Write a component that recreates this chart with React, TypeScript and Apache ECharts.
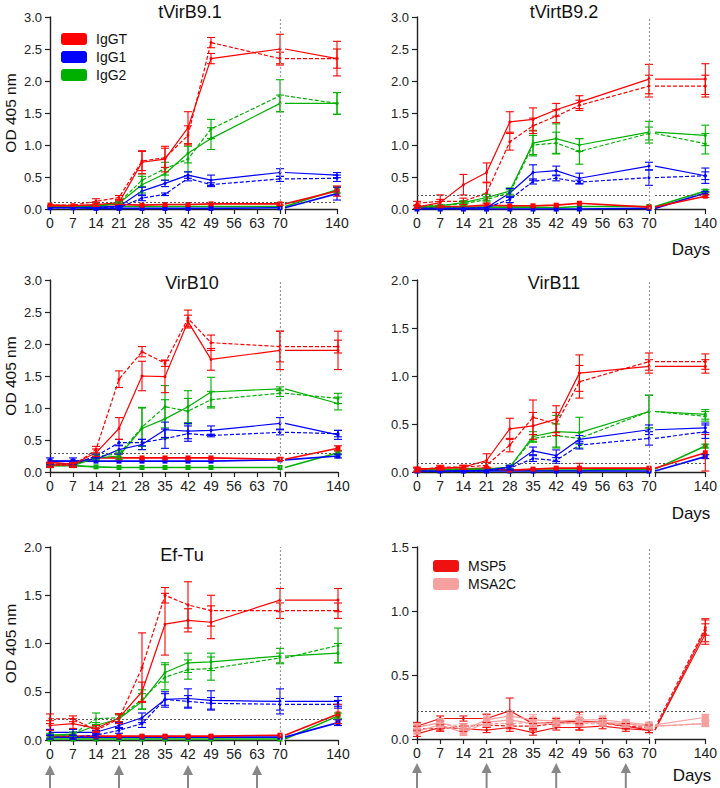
import React, { useEffect, useRef } from 'react';
import * as echarts from 'echarts';

// ---------- categories ----------
const DAYS = [0, 7, 14, 21, 28, 35, 42, 49, 70, 140];
const DAYS_P6 = [0, 7, 14, 21, 28, 35, 42, 49, 56, 63, 70, 140];
const ARROW_DAYS = [0, 21, 42, 63];
const ISOTYPES = ['IgGT', 'IgG1', 'IgG2'];
const ANTIGENS_P6 = ['MSP5', 'MSA2C'];

// ---------- tVirB9.1 ----------
const B91_T_A = [0.05, 0.05, 0.07, 0.1, 0.73, 0.78, 1.27, 2.35, 2.5, 2.35];
const B91_T_A_E = [0, 0, 0.03, 0.03, 0.18, 0.2, 0.25, 0.08, 0.23, 0.27];
const B91_T_B = [0.06, 0.06, 0.12, 0.18, 0.75, 0.8, 1.15, 2.6, 2.35, 2.35];
const B91_T_B_E = [0, 0, 0.04, 0.03, 0.15, 0.15, 0.15, 0.08, 0.1, 0.15];
const B91_T_C = [0.06, 0.05, 0.06, 0.07, 0.06, 0.07, 0.07, 0.08, 0.08, 0.28];
const B91_T_C_E = [0, 0, 0, 0, 0, 0, 0, 0, 0.02, 0.08];
const B91_1_A = [0.02, 0.02, 0.03, 0.04, 0.28, 0.4, 0.53, 0.45, 0.57, 0.53];
const B91_1_A_E = [0, 0, 0, 0.01, 0.06, 0.05, 0.05, 0.08, 0.06, 0.04];
const B91_1_B = [0.02, 0.02, 0.02, 0.02, 0.17, 0.23, 0.48, 0.38, 0.47, 0.48];
const B91_1_B_E = [0, 0, 0, 0, 0.04, 0.02, 0.04, 0.03, 0.04, 0.05];
const B91_1_C = [0.02, 0.02, 0.01, 0.01, 0.01, 0.01, 0.01, 0.01, 0.02, 0.24];
const B91_1_C_E = [0, 0, 0, 0, 0, 0, 0, 0, 0, 0.1];
const B91_2_A = [0.03, 0.03, 0.04, 0.09, 0.38, 0.55, 0.87, 1.1, 1.65, 1.65];
const B91_2_A_E = [0, 0, 0, 0.02, 0.13, 0.1, 0.15, 0.17, 0.13, 0.17];
const B91_2_B = [0.03, 0.03, 0.05, 0.1, 0.45, 0.63, 0.78, 1.25, 1.77, 1.65];
const B91_2_B_E = [0, 0, 0, 0.02, 0.1, 0.1, 0.2, 0.15, 0.25, 0.17];
const B91_2_C = [0.03, 0.03, 0.03, 0.04, 0.04, 0.04, 0.04, 0.04, 0.04, 0.3];
const B91_2_C_E = [0, 0, 0, 0, 0, 0, 0, 0, 0, 0.05];

// ---------- tVirtB9.2 ----------
const B92_T_A = [0.03, 0.1, 0.38, 0.57, 1.36, 1.4, 1.55, 1.67, 2.03, 2.03];
const B92_T_A_E = [0.02, 0.05, 0.16, 0.15, 0.16, 0.18, 0.1, 0.1, 0.23, 0.24];
const B92_T_B = [0.09, 0.12, 0.12, 0.25, 1.05, 1.3, 1.45, 1.62, 1.92, 1.92];
const B92_T_B_E = [0.03, 0.1, 0.05, 0.16, 0.13, 0.12, 0.1, 0.08, 0.17, 0.17];
const B92_T_C = [0.04, 0.04, 0.04, 0.06, 0.05, 0.05, 0.06, 0.09, 0.03, 0.2];
const B92_T_C_E = [0, 0, 0, 0, 0, 0, 0, 0, 0, 0.02];
const B92_1_A = [0.01, 0.01, 0.01, 0.02, 0.25, 0.57, 0.6, 0.48, 0.67, 0.52];
const B92_1_A_E = [0, 0, 0, 0, 0.07, 0.12, 0.07, 0.08, 0.06, 0.12];
const B92_1_B = [0.01, 0.01, 0.01, 0.02, 0.15, 0.43, 0.48, 0.42, 0.49, 0.52];
const B92_1_B_E = [0, 0, 0, 0, 0.05, 0.04, 0.04, 0.03, 0.12, 0.06];
const B92_1_C = [0, 0, 0, 0, 0, 0, 0, 0, 0.01, 0.25];
const B92_1_C_E = [0, 0, 0, 0, 0, 0, 0, 0, 0, 0.02];
const B92_2_A = [0.03, 0.05, 0.1, 0.18, 0.28, 1.03, 1.1, 1.0, 1.2, 1.15];
const B92_2_A_E = [0, 0, 0.03, 0.05, 0.05, 0.2, 0.23, 0.1, 0.17, 0.16];
const B92_2_B = [0.05, 0.06, 0.08, 0.15, 0.25, 1.0, 1.03, 0.9, 1.18, 1.02];
const B92_2_B_E = [0, 0, 0.03, 0.04, 0.05, 0.15, 0.17, 0.2, 0.1, 0.16];
const B92_2_C = [0.03, 0.03, 0.03, 0.03, 0.03, 0.03, 0.02, 0.04, 0.04, 0.28];
const B92_2_C_E = [0, 0, 0, 0, 0, 0, 0, 0, 0, 0.02];

// ---------- VirB10 ----------
const B10_T_A = [0.1, 0.12, 0.3, 0.68, 1.5, 1.49, 2.35, 1.76, 1.9, 1.9];
const B10_T_A_E = [0.03, 0.03, 0.06, 0.17, 0.23, 0.25, 0.1, 0.17, 0.3, 0.3];
const B10_T_B = [0.12, 0.1, 0.35, 1.45, 1.88, 1.7, 2.4, 2.02, 1.96, 1.96];
const B10_T_B_E = [0.03, 0.03, 0.05, 0.13, 0.08, 0.05, 0.13, 0.12, 0.24, 0.1];
const B10_T_C = [0.15, 0.12, 0.22, 0.22, 0.22, 0.22, 0.22, 0.22, 0.2, 0.37];
const B10_T_C_E = [0, 0, 0, 0, 0, 0, 0, 0, 0.02, 0.04];
const B10_1_A = [0.17, 0.17, 0.2, 0.35, 0.43, 0.66, 0.64, 0.65, 0.76, 0.58];
const B10_1_A_E = [0.05, 0.05, 0.03, 0.07, 0.08, 0.12, 0.12, 0.07, 0.09, 0.07];
const B10_1_B = [0.12, 0.12, 0.25, 0.46, 0.46, 0.52, 0.6, 0.57, 0.62, 0.6];
const B10_1_B_E = [0.03, 0.03, 0.03, 0.05, 0.05, 0.15, 0.12, 0.02, 0.04, 0.05];
const B10_1_C = [0.17, 0.17, 0.17, 0.17, 0.17, 0.17, 0.17, 0.17, 0.19, 0.25];
const B10_1_C_E = [0, 0, 0, 0, 0, 0, 0, 0, 0, 0.03];
const B10_2_A = [0.12, 0.1, 0.22, 0.25, 0.68, 0.83, 1.02, 1.25, 1.3, 1.07];
const B10_2_A_E = [0.02, 0.02, 0.03, 0.05, 0.33, 0.3, 0.25, 0.23, 0.03, 0.1];
const B10_2_B = [0.1, 0.1, 0.25, 0.28, 0.7, 1.02, 0.95, 1.13, 1.23, 1.15];
const B10_2_B_E = [0.02, 0.02, 0.03, 0.05, 0.3, 0.33, 0.2, 0.13, 0.05, 0.08];
const B10_2_C = [0.1, 0.1, 0.08, 0.07, 0.07, 0.07, 0.07, 0.07, 0.07, 0.3];
const B10_2_C_E = [0, 0, 0, 0, 0, 0, 0, 0, 0, 0.03];

// ---------- VirB11 ----------
const B11_T_A = [0.03, 0.04, 0.05, 0.12, 0.45, 0.48, 0.55, 1.03, 1.1, 1.1];
const B11_T_A_E = [0.02, 0.02, 0.02, 0.07, 0.11, 0.14, 0.14, 0.19, 0.07, 0.07];
const B11_T_B = [0.02, 0.05, 0.05, 0.07, 0.28, 0.57, 0.5, 0.94, 1.15, 1.15];
const B11_T_B_E = [0.02, 0.02, 0.02, 0.03, 0.07, 0.18, 0.12, 0.17, 0.09, 0.08];
const B11_T_C = [0.03, 0.03, 0.03, 0.04, 0.02, 0.03, 0.04, 0.04, 0.04, 0.2];
const B11_T_C_E = [0, 0, 0, 0, 0, 0, 0, 0.05, 0, 0.19];
const B11_1_A = [0.01, 0.01, 0.01, 0.02, 0.05, 0.22, 0.17, 0.34, 0.44, 0.46];
const B11_1_A_E = [0, 0, 0, 0, 0.02, 0.04, 0.06, 0.04, 0.05, 0.05];
const B11_1_B = [0.01, 0.01, 0.01, 0.01, 0.04, 0.14, 0.12, 0.28, 0.35, 0.42];
const B11_1_B_E = [0, 0, 0, 0, 0.02, 0.03, 0.03, 0.04, 0.07, 0.07];
const B11_1_C = [0.01, 0.01, 0.01, 0.01, 0.01, 0.01, 0.01, 0.01, 0.01, 0.16];
const B11_1_C_E = [0, 0, 0, 0, 0, 0, 0, 0, 0, 0.02];
const B11_2_A = [0.02, 0.02, 0.03, 0.03, 0.05, 0.37, 0.42, 0.41, 0.63, 0.6];
const B11_2_A_E = [0, 0, 0, 0, 0.02, 0.05, 0.17, 0.16, 0.17, 0.05];
const B11_2_B = [0.02, 0.02, 0.03, 0.03, 0.05, 0.35, 0.38, 0.35, 0.63, 0.58];
const B11_2_B_E = [0, 0, 0, 0, 0.02, 0.04, 0.12, 0.06, 0.17, 0.05];
const B11_2_C = [0.02, 0.02, 0.02, 0.02, 0.02, 0.02, 0.02, 0.02, 0.03, 0.27];
const B11_2_C_E = [0, 0, 0, 0, 0, 0, 0, 0, 0, 0.02];

// ---------- Ef-Tu ----------
const EF_T_A = [0.15, 0.17, 0.12, 0.23, 0.5, 1.2, 1.24, 1.22, 1.45, 1.45];
const EF_T_A_E = [0.05, 0.05, 0.03, 0.04, 0.1, 0.32, 0.12, 0.17, 0.12, 0.12];
const EF_T_B = [0.22, 0.22, 0.1, 0.22, 0.75, 1.5, 1.4, 1.34, 1.34, 1.34];
const EF_T_B_E = [0.05, 0.03, 0.02, 0.05, 0.36, 0.08, 0.24, 0.16, 0.08, 0.08];
const EF_T_C = [0.04, 0.04, 0.04, 0.04, 0.04, 0.04, 0.04, 0.04, 0.05, 0.27];
const EF_T_C_E = [0, 0, 0, 0, 0, 0, 0, 0, 0, 0.1];
const EF_1_A = [0.08, 0.08, 0.08, 0.15, 0.23, 0.42, 0.43, 0.41, 0.4, 0.4];
const EF_1_A_E = [0.03, 0.03, 0.02, 0.03, 0.05, 0.08, 0.1, 0.1, 0.13, 0.05];
const EF_1_B = [0.03, 0.03, 0.05, 0.1, 0.17, 0.42, 0.4, 0.38, 0.37, 0.37];
const EF_1_B_E = [0.02, 0.02, 0.02, 0.03, 0.04, 0.06, 0.06, 0.06, 0.06, 0.04];
const EF_1_C = [0.03, 0.03, 0.03, 0.03, 0.03, 0.03, 0.03, 0.03, 0.03, 0.18];
const EF_1_C_E = [0, 0, 0, 0, 0, 0, 0, 0, 0, 0.03];
const EF_2_A = [0.05, 0.06, 0.15, 0.22, 0.4, 0.7, 0.8, 0.81, 0.87, 0.9];
const EF_2_A_E = [0.02, 0.02, 0.03, 0.04, 0.08, 0.1, 0.1, 0.09, 0.08, 0.1];
const EF_2_B = [0.03, 0.06, 0.22, 0.23, 0.42, 0.65, 0.73, 0.74, 0.85, 0.98];
const EF_2_B_E = [0.02, 0.02, 0.06, 0.04, 0.1, 0.13, 0.1, 0.12, 0.05, 0.18];
const EF_2_C = [0.01, 0.01, 0.01, 0.01, 0.01, 0.01, 0.01, 0.01, 0.01, 0.25];
const EF_2_C_E = [0, 0, 0, 0, 0, 0, 0, 0, 0, 0.03];

// ---------- MSP5 / MSA2C ----------
const MSP5_A = [0.1, 0.16, 0.16, 0.16, 0.22, 0.12, 0.13, 0.14, 0.13, 0.1, 0.07, 0.85];
const MSP5_A_E = [0.03, 0.02, 0.02, 0.03, 0.1, 0.04, 0.03, 0.07, 0.03, 0.02, 0.02, 0.09];
const MSP5_B = [0.04, 0.09, 0.08, 0.07, 0.09, 0.05, 0.09, 0.09, 0.1, 0.08, 0.07, 0.82];
const MSP5_B_E = [0.02, 0.02, 0.02, 0.02, 0.03, 0.02, 0.02, 0.02, 0.02, 0.02, 0.02, 0.08];
const MSP5_C = [0.08, 0.08, 0.1, 0.11, 0.1, 0.1, 0.12, 0.14, 0.12, 0.1, 0.09, 0.87];
const MSP5_C_E = [0.02, 0.02, 0.02, 0.02, 0.02, 0.02, 0.02, 0.02, 0.02, 0.02, 0.02, 0.06];
const MSA2C_A = [0.09, 0.13, 0.07, 0.15, 0.18, 0.15, 0.14, 0.15, 0.15, 0.13, 0.11, 0.17];
const MSA2C_A_E = [0.03, 0.03, 0.03, 0.05, 0.04, 0.04, 0.03, 0.04, 0.03, 0.02, 0.02, 0.02];
const MSA2C_B = [0.06, 0.11, 0.05, 0.13, 0.15, 0.12, 0.12, 0.13, 0.13, 0.12, 0.1, 0.12];
const MSA2C_B_E = [0.02, 0.02, 0.02, 0.03, 0.03, 0.03, 0.02, 0.03, 0.02, 0.02, 0.02, 0.02];
const MSA2C_C = [0.1, 0.12, 0.1, 0.12, 0.12, 0.13, 0.12, 0.12, 0.12, 0.11, 0.1, 0.12];
const MSA2C_C_E = [0.02, 0.02, 0.02, 0.02, 0.02, 0.02, 0.02, 0.02, 0.02, 0.02, 0.02, 0.02];

// ---------- styles ----------
const RED = '#ff0000';
const BLUE = '#0000ff';
const GREEN = '#00b000';
const MSP5_COLOR = '#ee1111';
const MSA2C_COLOR = '#f7a0a0';
const FONT = '"Liberation Sans", Arial, Helvetica, sans-serif';
const INK = '#222';

type Line = { name: string; color: string; vals: number[]; err: number[]; dashed?: boolean; ctrl?: boolean; sym?: string; symSize?: number };
type Panel = { title: string; yMax: number; cutoff: number; days: number[]; lines: Line[] };

function iso(t: number[][], g1: number[][], g2: number[][]): Line[] {
  // t/g1/g2: [A, A_E, B, B_E, C, C_E]
  const out: Line[] = [];
  const sets: [string, string, number[][]][] = [
    [ISOTYPES[2], GREEN, g2],
    [ISOTYPES[1], BLUE, g1],
    [ISOTYPES[0], RED, t],
  ];
  sets.forEach(([n, c, s]) => out.push({ name: n, color: c, vals: s[4], err: s[5], ctrl: true }));
  sets.forEach(([n, c, s]) => {
    out.push({ name: n, color: c, vals: s[0], err: s[1] });
    out.push({ name: n, color: c, vals: s[2], err: s[3], dashed: true });
  });
  return out;
}

const PANELS: Panel[] = [
  {
    title: 'tVirB9.1', yMax: 3, cutoff: 0.1, days: DAYS,
    lines: iso(
      [B91_T_A, B91_T_A_E, B91_T_B, B91_T_B_E, B91_T_C, B91_T_C_E],
      [B91_1_A, B91_1_A_E, B91_1_B, B91_1_B_E, B91_1_C, B91_1_C_E],
      [B91_2_A, B91_2_A_E, B91_2_B, B91_2_B_E, B91_2_C, B91_2_C_E]),
  },
  {
    title: 'tVirtB9.2', yMax: 3, cutoff: 0.21, days: DAYS,
    lines: iso(
      [B92_T_A, B92_T_A_E, B92_T_B, B92_T_B_E, B92_T_C, B92_T_C_E],
      [B92_1_A, B92_1_A_E, B92_1_B, B92_1_B_E, B92_1_C, B92_1_C_E],
      [B92_2_A, B92_2_A_E, B92_2_B, B92_2_B_E, B92_2_C, B92_2_C_E]),
  },
  {
    title: 'VirB10', yMax: 3, cutoff: 0.3, days: DAYS,
    lines: iso(
      [B10_T_A, B10_T_A_E, B10_T_B, B10_T_B_E, B10_T_C, B10_T_C_E],
      [B10_1_A, B10_1_A_E, B10_1_B, B10_1_B_E, B10_1_C, B10_1_C_E],
      [B10_2_A, B10_2_A_E, B10_2_B, B10_2_B_E, B10_2_C, B10_2_C_E]),
  },
  {
    title: 'VirB11', yMax: 2, cutoff: 0.09, days: DAYS,
    lines: iso(
      [B11_T_A, B11_T_A_E, B11_T_B, B11_T_B_E, B11_T_C, B11_T_C_E],
      [B11_1_A, B11_1_A_E, B11_1_B, B11_1_B_E, B11_1_C, B11_1_C_E],
      [B11_2_A, B11_2_A_E, B11_2_B, B11_2_B_E, B11_2_C, B11_2_C_E]),
  },
  {
    title: 'Ef-Tu', yMax: 2, cutoff: 0.22, days: DAYS,
    lines: iso(
      [EF_T_A, EF_T_A_E, EF_T_B, EF_T_B_E, EF_T_C, EF_T_C_E],
      [EF_1_A, EF_1_A_E, EF_1_B, EF_1_B_E, EF_1_C, EF_1_C_E],
      [EF_2_A, EF_2_A_E, EF_2_B, EF_2_B_E, EF_2_C, EF_2_C_E]),
  },
  {
    title: '', yMax: 1.5, cutoff: 0.22, days: DAYS_P6,
    lines: [
      { name: ANTIGENS_P6[0], color: MSP5_COLOR, vals: MSP5_A, err: MSP5_A_E, sym: 'circle', symSize: 3 },
      { name: ANTIGENS_P6[0], color: MSP5_COLOR, vals: MSP5_B, err: MSP5_B_E, sym: 'circle', symSize: 3 },
      { name: ANTIGENS_P6[0], color: MSP5_COLOR, vals: MSP5_C, err: MSP5_C_E, dashed: true, sym: 'circle', symSize: 3 },
      { name: ANTIGENS_P6[1], color: MSA2C_COLOR, vals: MSA2C_A, err: MSA2C_A_E, sym: 'rect', symSize: 7 },
      { name: ANTIGENS_P6[1], color: MSA2C_COLOR, vals: MSA2C_B, err: MSA2C_B_E, sym: 'rect', symSize: 7 },
      { name: ANTIGENS_P6[1], color: MSA2C_COLOR, vals: MSA2C_C, err: MSA2C_C_E, dashed: true, sym: 'rect', symSize: 6 },
    ],
  },
];

// layout (pixels)
const LAYOUT = [
  { left: 50, top: 17, width: 230, height: 192, rLeft: 285, rWidth: 52, yName: true, tx: 190, ty: 12 },
  { left: 417, top: 17, width: 232, height: 192, rLeft: 655, rWidth: 51, yName: false, tx: 564, ty: 12, dx: 691, dy: 249 },
  { left: 50, top: 280, width: 230, height: 192, rLeft: 285, rWidth: 53, yName: true, tx: 192, ty: 283 },
  { left: 417, top: 280, width: 232, height: 192, rLeft: 655, rWidth: 51, yName: false, tx: 554, ty: 283, dx: 691, dy: 513 },
  { left: 50, top: 547, width: 230, height: 193, rLeft: 285, rWidth: 53, yName: true, tx: 182, ty: 555, arrowTop: 765 },
  { left: 417, top: 547, width: 232, height: 192, rLeft: 655, rWidth: 51, yName: false, dx: 692, dy: 775, arrowTop: 763 },
];

function errSeries(color: string, data: number[][], axisIndex: number, yMax: number) {
  return {
    type: 'custom',
    xAxisIndex: axisIndex,
    yAxisIndex: axisIndex,
    data,
    encode: { x: 0, y: 1 },
    silent: true,
    clip: false,
    z: 4,
    renderItem: (_p: any, api: any) => {
      const x = api.value(0);
      const y = api.value(1);
      const e = api.value(2);
      const hi = Math.min(yMax, y + e);
      const lo = Math.max(0, y - e);
      const a = api.coord([x, hi]);
      const b = api.coord([x, lo]);
      const hw = 4;
      const st = { stroke: color, lineWidth: 1.1 };
      const children: any[] = [
        { type: 'line', shape: { x1: a[0], y1: a[1], x2: b[0], y2: b[1] }, style: st },
        { type: 'line', shape: { x1: a[0] - hw, y1: a[1], x2: a[0] + hw, y2: a[1] }, style: st },
      ];
      if (y - e >= 0) children.push({ type: 'line', shape: { x1: b[0] - hw, y1: b[1], x2: b[0] + hw, y2: b[1] }, style: st });
      return { type: 'group', children };
    },
  };
}

function buildOption() {
  const grids: any[] = [];
  const xAxes: any[] = [];
  const yAxes: any[] = [];
  const series: any[] = [];
  const graphics: any[] = [];
  const axisLine = { show: true, lineStyle: { color: INK, width: 1.4 } };
  const axisTick = { show: true, length: 5, lineStyle: { color: INK, width: 1.2 } };

  PANELS.forEach((p, pi) => {
    const L: any = LAYOUT[pi];
    const gl = grids.length;
    const gr = gl + 1;
    grids.push({ left: L.left, top: L.top, width: L.width, height: L.height });
    grids.push({ left: L.rLeft, top: L.top, width: L.rWidth, height: L.height });
    xAxes.push({
      type: 'value', gridIndex: gl, min: 0, max: 70, interval: 7,
      axisLine, axisTick, splitLine: { show: false },
      axisLabel: { color: INK, fontSize: 14, fontFamily: FONT, margin: 7 },
    });
    xAxes.push({
      type: 'value', gridIndex: gr, min: 70, max: 140, interval: 70,
      axisLine, axisTick, splitLine: { show: false },
      axisLabel: { color: INK, fontSize: 14, fontFamily: FONT, margin: 7, formatter: (v: number) => (v === 140 ? '140' : '') },
    });
    yAxes.push({
      type: 'value', gridIndex: gl, min: 0, max: p.yMax, interval: 0.5,
      axisLine, axisTick, splitLine: { show: false },
      axisLabel: { color: INK, fontSize: 13, fontFamily: FONT, margin: 8, formatter: (v: number) => v.toFixed(1) },
      name: L.yName ? 'OD 405 nm' : '',
      nameLocation: 'middle', nameGap: 32,
      nameTextStyle: { color: '#111', fontSize: 15.5, fontFamily: FONT },
    });
    yAxes.push({ type: 'value', gridIndex: gr, min: 0, max: p.yMax, show: false });

    const nLeft = p.days.filter((d) => d <= 70).length;
    const i70 = p.days.indexOf(70);
    const i140 = p.days.indexOf(140);

    p.lines.forEach((ln, li) => {
      const sym = ln.sym || (ln.ctrl ? 'rect' : 'circle');
      const symSize = ln.symSize || (ln.ctrl ? 5 : 3);
      const lineStyle = { color: ln.color, width: ln.ctrl ? 1.6 : 1.2, type: ln.dashed ? [4, 2] : 'solid' };
      const leftData = p.days.slice(0, nLeft).map((d, i) => [d, ln.vals[i]]);
      const rightData = [
        { value: [70, ln.vals[i70]], symbol: 'none' },
        [140, ln.vals[i140]],
      ];
      const base = {
        type: 'line', name: ln.name, color: ln.color, symbol: sym, symbolSize: symSize,
        showSymbol: true, lineStyle, itemStyle: { color: ln.color }, silent: true,
        z: ln.ctrl ? 2 : 3,
      };
      const leftS: any = { ...base, xAxisIndex: gl, yAxisIndex: gl, data: leftData };
      const rightS: any = { ...base, xAxisIndex: gr, yAxisIndex: gr, data: rightData };
      if (li === 0) {
        leftS.markLine = {
          silent: true, symbol: ['none', 'none'], label: { show: false },
          data: [
            { yAxis: p.cutoff, lineStyle: { color: '#555', width: 1, type: [2, 2] } },
            { xAxis: 70, lineStyle: { color: '#999', width: 1.2, type: [2, 2] } },
          ],
        };
        rightS.markLine = {
          silent: true, symbol: ['none', 'none'], label: { show: false },
          data: [{ yAxis: p.cutoff, lineStyle: { color: '#555', width: 1, type: [2, 2] } }],
        };
      }
      series.push(leftS, rightS);
      const errL = p.days.slice(0, nLeft).map((d, i) => [d, ln.vals[i], ln.err[i]]).filter((r) => r[2] > 0);
      if (errL.length) series.push(errSeries(ln.color, errL, gl, p.yMax));
      if (ln.err[i140] > 0) series.push(errSeries(ln.color, [[140, ln.vals[i140], ln.err[i140]]], gr, p.yMax));
    });

    if (p.title) {
      graphics.push({
        type: 'text', x: L.tx, y: L.ty,
        style: { text: p.title, fill: '#111', fontSize: 18, fontFamily: FONT, align: 'center', verticalAlign: 'middle' },
      });
    }
    if (L.dx) {
      graphics.push({
        type: 'text', x: L.dx, y: L.dy,
        style: { text: 'Days', fill: '#111', fontSize: 17, fontFamily: FONT, align: 'center', verticalAlign: 'middle' },
      });
    }
    if (L.arrowTop) {
      const ga = grids.length;
      grids.push({ left: L.left, top: L.arrowTop, width: L.width, height: 788 - L.arrowTop });
      xAxes.push({ type: 'value', gridIndex: ga, min: 0, max: 70, show: false });
      yAxes.push({ type: 'value', gridIndex: ga, min: 0, max: 1, show: false });
      series.push({
        type: 'custom', xAxisIndex: ga, yAxisIndex: ga, silent: true, clip: false,
        data: ARROW_DAYS.map((d) => [d, 1]),
        encode: { x: 0, y: 1 },
        renderItem: (_p: any, api: any) => {
          const tip = api.coord([api.value(0), 1]);
          const base = api.coord([api.value(0), 0]);
          return {
            type: 'group',
            children: [
              { type: 'polygon', shape: { points: [[tip[0], tip[1]], [tip[0] - 5, tip[1] + 10], [tip[0] + 5, tip[1] + 10]] }, style: { fill: '#888' } },
              { type: 'rect', shape: { x: tip[0] - 1, y: tip[1] + 9, width: 2, height: base[1] - tip[1] - 9 }, style: { fill: '#888' } },
            ],
          };
        },
      });
    }
  });

  const legendBase = {
    orient: 'vertical', icon: 'roundRect', itemWidth: 26, itemHeight: 12, itemGap: 4,
    selectedMode: false,
    textStyle: { color: '#111', fontSize: 14, fontFamily: FONT, padding: [0, 0, 0, 4] },
  };

  return {
    animation: false,
    backgroundColor: '#ffffff',
    textStyle: { fontFamily: FONT },
    grid: grids,
    xAxis: xAxes,
    yAxis: yAxes,
    legend: [
      { ...legendBase, left: 56, top: 27, data: ISOTYPES },
      { ...legendBase, left: 428, top: 554, data: ANTIGENS_P6 },
    ],
    graphic: graphics,
    series,
  };
}

export default function App() {
  const ref = useRef<HTMLDivElement>(null);
  useEffect(() => {
    if (!ref.current) return;
    const chart = echarts.init(ref.current, undefined, { renderer: 'svg' });
    chart.setOption(buildOption() as any);
    return () => chart.dispose();
  }, []);
  return <div ref={ref} style={{ position: 'absolute', left: 0, top: 0, width: 720, height: 788, background: '#fff' }} />;
}
